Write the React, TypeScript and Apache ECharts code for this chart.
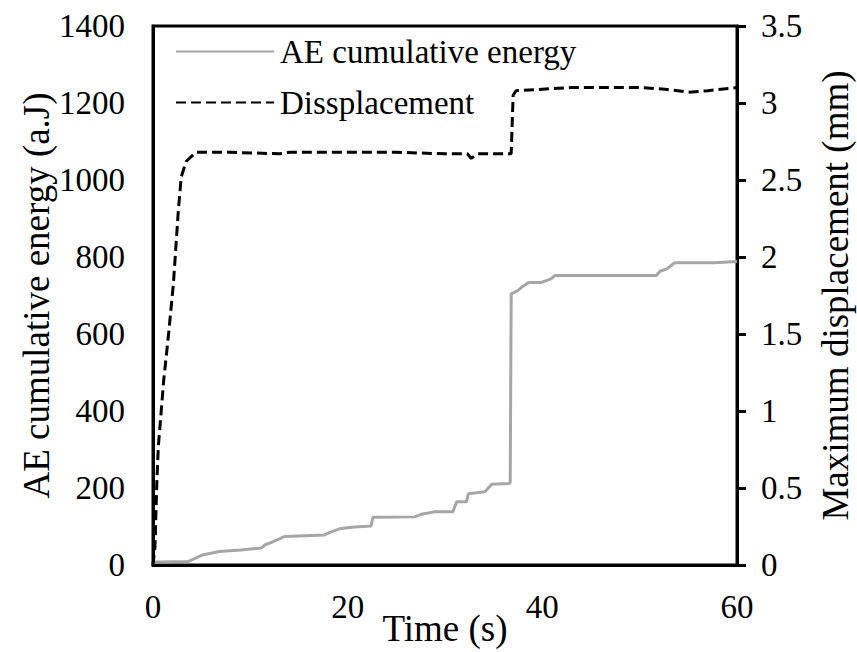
import React, { useEffect, useRef } from "react";
import * as echarts from "echarts";

// AE cumulative energy (a.J) vs time (s)
const aeTime = [0, 0.3, 3.6, 5.1, 6.8, 9.0, 11.1, 11.5, 12.3, 13.5, 17.6, 18.3, 19.3, 20.7, 22.4, 22.6, 26.9, 27.6, 28.9, 30.8, 31.2, 32.2, 32.4, 34.1, 34.8, 36.6, 36.7, 36.8, 37.5, 37.9, 38.6, 39.9, 40.9, 41.3, 51.7, 52.1, 52.8, 53.6, 57.7, 60];
const aeEnergy = [5, 8, 9, 26, 35, 39, 44, 52, 60, 74, 78, 86, 95, 99, 101, 124, 125, 132, 138, 138, 164, 164, 185, 190, 210, 212, 215, 704, 713, 722, 734, 734, 743, 752, 752, 763, 769, 785, 785, 788];

// Maximum displacement (mm) vs time (s)
const dispTime = [0, 0.2, 0.4, 0.55, 1.1, 1.6, 2.1, 2.6, 2.9, 3.4, 4.4, 8, 13, 14, 20, 25, 30, 32.3, 32.7, 33.3, 36.8, 37.0, 37.3, 43, 50, 52.6, 55, 57, 60];
const disp = [0, 0.12, 0.55, 0.77, 1.2, 1.5, 1.83, 2.3, 2.52, 2.62, 2.68, 2.68, 2.67, 2.68, 2.68, 2.68, 2.67, 2.67, 2.64, 2.67, 2.67, 3.05, 3.08, 3.1, 3.1, 3.09, 3.07, 3.08, 3.1];

const seriesNames = ["AE cumulative energy", "Dissplacement"];
const xTitle = "Time (s)";
const yLeftTitle = "AE cumulative energy (a.J)";
const yRightTitle = "Maximum displacement (mm)";

const FONT = "Times New Roman";

export default function App() {
  const ref = useRef<HTMLDivElement>(null);
  useEffect(() => {
    if (!ref.current) return;
    const chart = echarts.init(ref.current, null, { renderer: "svg" });
    const labelStyle = { fontFamily: FONT, fontSize: 33, color: "#000" };
    const titleStyle = { fontFamily: FONT, fontSize: 37, color: "#000" };
    const plain = (v: number) => String(v);
    chart.setOption({
      animation: false,
      backgroundColor: "#fff",
      textStyle: { fontFamily: FONT },
      grid: {
        left: 153,
        right: 120,
        top: 26,
        bottom: 87,
        containLabel: false,
        outerBoundsMode: "none",
        show: true,
        borderColor: "#000",
        borderWidth: 3,
      },
      legend: {
        orient: "vertical",
        left: 170,
        top: 30,
        itemWidth: 98,
        itemHeight: 14,
        itemGap: 18,
        itemStyle: { opacity: 0 },
        textStyle: { ...labelStyle, padding: [0, 0, 0, 1] },
        data: seriesNames,
      },
      xAxis: {
        type: "value",
        min: 0,
        max: 60,
        interval: 20,
        name: xTitle,
        nameLocation: "middle",
        nameGap: 45,
        nameMoveOverlap: false,
        nameTextStyle: titleStyle,
        axisLine: { lineStyle: { color: "#000", width: 3 } },
        axisTick: { show: false },
        axisLabel: { ...labelStyle, margin: 25, formatter: plain },
        splitLine: { show: false },
      },
      yAxis: [
        {
          type: "value",
          min: 0,
          max: 1400,
          interval: 200,
          name: yLeftTitle,
          nameLocation: "middle",
          nameGap: 98,
          nameMoveOverlap: false,
          nameTextStyle: titleStyle,
          axisLine: { show: true, lineStyle: { color: "#000", width: 3 } },
          axisTick: { show: false },
          axisLabel: { ...labelStyle, margin: 28, formatter: plain },
          splitLine: { show: false },
        },
        {
          type: "value",
          min: 0,
          max: 3.5,
          interval: 0.5,
          position: "right",
          name: yRightTitle,
          nameLocation: "middle",
          nameGap: 80,
          nameMoveOverlap: false,
          nameTextStyle: titleStyle,
          axisLine: { show: true, lineStyle: { color: "#000", width: 3 } },
          axisTick: { show: true, inside: false, length: 9, lineStyle: { color: "#000", width: 3 } },
          axisLabel: { ...labelStyle, margin: 24, formatter: plain },
          splitLine: { show: false },
        },
      ],
      series: [
        {
          name: seriesNames[0],
          type: "line",
          yAxisIndex: 0,
          symbol: "none",
          lineStyle: { color: "#a6a6a6", width: 3 },
          itemStyle: { color: "#a6a6a6" },
          data: aeTime.map((t, i) => [t, aeEnergy[i]]),
        },
        {
          name: seriesNames[1],
          type: "line",
          yAxisIndex: 1,
          symbol: "none",
          lineStyle: { color: "#000", width: 3, type: [10, 5] },
          itemStyle: { color: "#000" },
          data: dispTime.map((t, i) => [t, disp[i]]),
        },
      ],
    });
    return () => chart.dispose();
  }, []);
  return (
    <>
      <style>{`#chart-box svg text { font-family: "Times New Roman", "Liberation Serif", serif !important; }`}</style>
      <div
        id="chart-box"
        ref={ref}
        style={{ position: "fixed", left: 0, top: 0, width: 857, height: 652 }}
      />
    </>
  );
}
